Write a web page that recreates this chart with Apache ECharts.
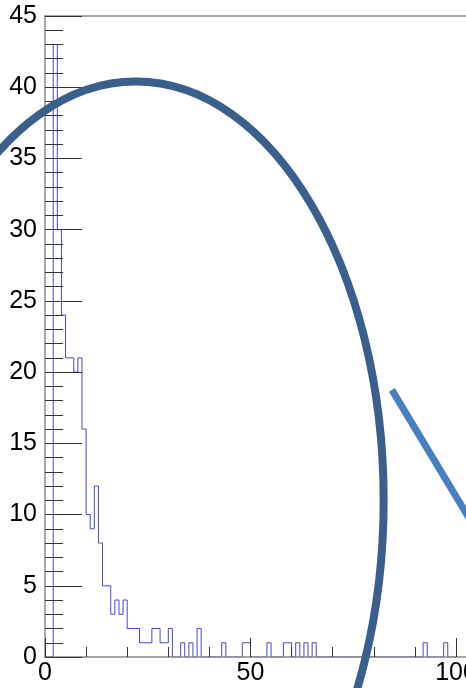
<!DOCTYPE html>
<html>
<head>
<meta charset="utf-8">
<script src="https://cdn.jsdelivr.net/npm/echarts@6/dist/echarts.min.js"></script>
<style>
html,body{margin:0;padding:0;background:#fff;}
#chart{width:466px;height:688px;}
</style>
</head>
<body>
<div id="chart"></div>
<script>
// histogram bin contents, bins of width 1 starting at 0
var binContents = [
  0, 0, 43, 30, 24, 21, 21, 20, 21, 16,
  10, 9, 12, 8, 5, 5, 3, 4, 3, 4,
  2, 2, 2, 1, 1, 1, 2, 2, 1, 1,
  2, 0, 0, 1, 0, 1, 0, 2, 0, 0,
  0, 0, 0, 1, 0, 0, 0, 0, 1, 1,
  0, 0, 0, 0, 1, 0, 0, 0, 1, 1,
  0, 1, 0, 1, 0, 1, 0, 0, 0, 0,
  0, 0, 0, 0, 0, 0, 0, 0, 0, 0,
  0, 0, 0, 0, 0, 0, 0, 0, 0, 0,
  0, 0, 1, 0, 0, 0, 0, 1, 0, 0
];
var binWidth = 1;
var xTicks = [0, 50, 100, 150];
var yTicks = [0, 5, 10, 15, 20, 25, 30, 35, 40, 45];
var xMax = 150;   // the frame continues past the right edge of the picture
// annotation shapes in data units
var ellipseShape = [22.1, 11.0, 60.3, 29.4];      // cx, cy, rx, ry
var arrowLine = [[84.4, 18.75], [105.8, 8.5]];

var stepData = binContents.map(function (v, k) { return [k * binWidth, v]; });
stepData.push([binContents.length * binWidth, binContents[binContents.length - 1]]);

var chart = echarts.init(document.getElementById('chart'), null, {renderer: 'canvas'});
var font = 'Liberation Sans, Arial, Helvetica, sans-serif';
var option = {
  animation: false,
  backgroundColor: '#fff',
  grid: {left: 45, top: 16, width: 616.5, height: 641, show: false, outerBoundsMode: 'none', containLabel: false},
  xAxis: [{
    type: 'value', min: 0, max: xMax, interval: 50, z: 5, position: 'bottom',
    axisLine: {show: true, onZero: false, lineStyle: {color: '#888', width: 1.5}},
    axisTick: {show: true, inside: true, length: 19, lineStyle: {color: '#333', width: 1}},
    minorTick: {show: true, splitNumber: 5, length: 10, lineStyle: {color: '#333', width: 1}},
    splitLine: {show: false},
    axisLabel: {show: true, margin: 4, fontSize: 25, color: '#000', fontFamily: font, hideOverlap: false,
      formatter: function (v) { return xTicks.indexOf(v) >= 0 ? String(v) : ''; }}
  }, {
    type: 'value', min: 0, max: xMax, z: 5, position: 'top',
    axisLine: {show: true, onZero: false, lineStyle: {color: '#888', width: 1.5}},
    axisTick: {show: false},
    splitLine: {show: false},
    axisLabel: {show: false}
  }],
  yAxis: {
    type: 'value', min: 0, max: 45, interval: 5, z: 5,
    axisLine: {show: true, onZero: false, lineStyle: {color: '#888', width: 1.5}},
    axisTick: {show: true, inside: true, length: 37, lineStyle: {color: '#333', width: 1}},
    minorTick: {show: true, splitNumber: 5, length: 18, lineStyle: {color: '#333', width: 1}},
    splitLine: {show: false},
    axisLabel: {show: true, margin: 8, fontSize: 25, color: '#000', fontFamily: font,
      formatter: function (v) { return yTicks.indexOf(v) >= 0 ? String(v) : ''; }}
  },
  series: [{
    type: 'line', step: 'end', data: stepData, symbol: 'none', clip: true, z: 2,
    xAxisIndex: 0, yAxisIndex: 0,
    lineStyle: {color: '#4646cc', width: 1}
  }]
};
chart.setOption(option);

var c = chart.convertToPixel({xAxisIndex: 0, yAxisIndex: 0}, [ellipseShape[0], ellipseShape[1]]);
var e = chart.convertToPixel({xAxisIndex: 0, yAxisIndex: 0}, [ellipseShape[0] + ellipseShape[2], ellipseShape[1] + ellipseShape[3]]);
var p1 = chart.convertToPixel({xAxisIndex: 0, yAxisIndex: 0}, arrowLine[0]);
var p2 = chart.convertToPixel({xAxisIndex: 0, yAxisIndex: 0}, arrowLine[1]);
chart.setOption({
  graphic: [
    {type: 'ellipse', z: 100, silent: true,
      shape: {cx: c[0], cy: c[1], rx: Math.abs(e[0] - c[0]), ry: Math.abs(c[1] - e[1])},
      style: {fill: 'none', stroke: '#3a5f8b', lineWidth: 8}},
    {type: 'line', z: 100, silent: true,
      shape: {x1: p1[0], y1: p1[1], x2: p2[0], y2: p2[1]},
      style: {stroke: '#4a7fbf', lineWidth: 7, lineCap: 'butt'}}
  ]
});
</script>
</body>
</html>
